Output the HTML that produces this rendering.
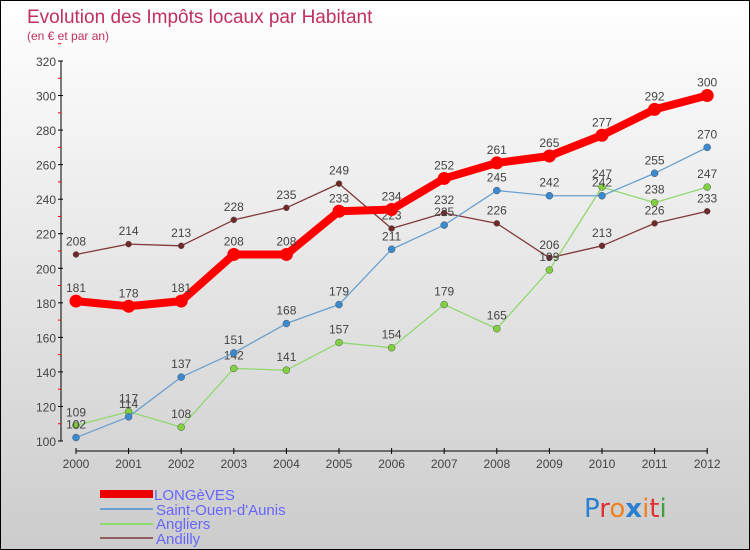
<!DOCTYPE html>
<html><head><meta charset="utf-8"><style>
body{margin:0}
#c{width:748px;height:548px;border:1px solid #000;background:linear-gradient(#fff,#f0f0f0 30%,#ccc);position:relative;font-family:"Liberation Sans","DejaVu Sans",sans-serif}
</style></head><body>
<div id="c">
<svg id="s" width="748" height="548" style="position:absolute;left:0;top:0">
<text x="26" y="22" font-size="19" fill="#c0305c">Evolution des Impôts locaux par Habitant</text>
<text x="26" y="39" font-size="12" fill="#c0305c">(en € et par an)</text>
<g id="axes"></g><g id="series"></g>
<g>
<rect x="99" y="489" width="53" height="8" fill="#e00"/>
<text x="153" y="499" font-size="15" fill="#66f">LONGèVES</text>
<rect x="99" y="507" width="53" height="2" fill="#6aa0d0"/>
<text x="155" y="514" font-size="15" fill="#66f">Saint-Ouen-d'Aunis</text>
<rect x="99" y="522" width="53" height="2" fill="#90d870"/>
<text x="155" y="528" font-size="15" fill="#66f">Angliers</text>
<rect x="99" y="536" width="53" height="2" fill="#906060"/>
<text x="155" y="543" font-size="15" fill="#66f">Andilly</text>
</g>
<text x="583" y="516" font-size="26" font-family="'DejaVu Sans',sans-serif"><tspan fill="#2a7fd0">P</tspan><tspan fill="#e03030">r</tspan><tspan fill="#f08020">o</tspan><tspan fill="#2a7fd0" font-weight="bold">x</tspan><tspan fill="#f08020">i</tspan><tspan fill="#e03030">t</tspan><tspan fill="#40a040">i</tspan></text>
</svg></div>
<script>
const years=[2000,2001,2002,2003,2004,2005,2006,2007,2008,2009,2010,2011,2012];
const longeves=[181,178,181,208,208,233,234,252,261,265,277,292,300];
const saintOuen=[102,114,137,151,168,179,211,225,245,242,242,255,270];
const angliers=[109,117,108,142,141,157,154,179,165,199,247,238,247];
const andilly=[208,214,213,228,235,249,223,232,226,206,213,226,233];
const yTicks=[100,120,140,160,180,200,220,240,260,280,300,320];
const NS="http://www.w3.org/2000/svg";
const X=i=>75+i*52.6;
const Y=v=>440-(v-100)*(380/220);
function mk(t,a,p){const e=document.createElementNS(NS,t);for(const k in a)e.setAttribute(k,a[k]);p.appendChild(e);return e;}
const ax=document.getElementById('axes');
let l=mk('line',{x1:60,y1:Y(320),x2:60,y2:Y(100),stroke:'#000','stroke-width':1},ax);

yTicks.forEach(v=>{
 mk('line',{x1:57,y1:Y(v),x2:62,y2:Y(v),stroke:'#000'},ax);
 mk('line',{x1:57,y1:Y(v+10),x2:60,y2:Y(v+10),stroke:'#f00'},ax);
 const t=mk('text',{x:55,y:Y(v)+5,'font-size':12,fill:'#444','text-anchor':'end'},ax);t.textContent=v;
 
 
});
l=mk('line',{x1:75,y1:450,x2:707,y2:450,stroke:'#000','stroke-width':1},ax);

years.forEach((y,i)=>{
 mk('line',{x1:X(i),y1:447,x2:X(i),y2:453,stroke:'#000'},ax);
 const t=mk('text',{x:X(i),y:467,'font-size':12,fill:'#444','text-anchor':'middle'},ax);t.textContent=y;
 
 
});
const sg=document.getElementById('series');
function draw(d,col,w,r,dot,name){
 const g=mk('g',{},sg);
 
 
 mk('polyline',{points:d.map((v,i)=>X(i)+','+Y(v)).join(' '),fill:'none',stroke:col,'stroke-width':w,'stroke-linejoin':'round'},g);
 d.forEach((v,i)=>{
  const c=mk('circle',{cx:X(i),cy:Y(v),r:r,fill:dot,stroke:'#555','stroke-width':w>3?0:0.5},g);
  
  
  const t=mk('text',{x:X(i),y:Y(v)-9,'font-size':12,fill:'#444','text-anchor':'middle'},g);t.textContent=v;
  
  
 });
}
draw(andilly,'#803838',1.3,3,'#702828','andilly-series');
draw(angliers,'#90d870',1.3,3.5,'#80d040','angliers-series');
draw(saintOuen,'#6aa0d0',1.3,3.5,'#3a8ad0','saint-ouen-series');
draw(longeves,'#f00',8,6.5,'#f00','longeves-series');
</script>
</body></html>
